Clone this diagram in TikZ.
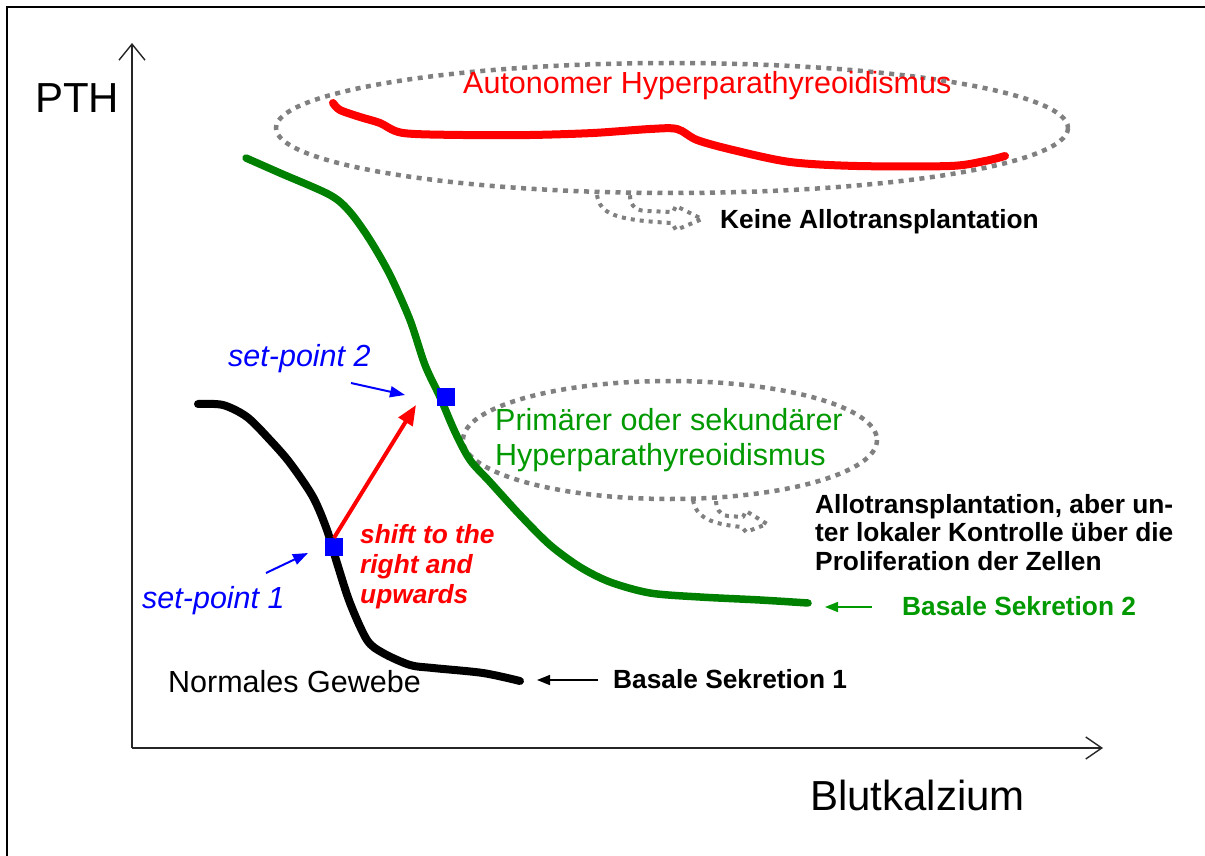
\documentclass[tikz,border=0pt]{standalone}
\usepackage{fontspec}
\setmainfont{Liberation Sans}
\usetikzlibrary{arrows.meta}
\definecolor{cred}{RGB}{255,0,0}
\definecolor{cgreen}{RGB}{0,128,0}
\definecolor{cgreentext}{RGB}{0,153,0}
\definecolor{cblue}{RGB}{0,0,255}
\definecolor{cgray}{RGB}{128,128,128}
\begin{document}
\begin{tikzpicture}[x=1pt,y=-1pt,
  lbl/.style={inner sep=0pt, anchor=base west},
  big/.style={font=\fontsize{42}{48}\selectfont},
  reg/.style={font=\fontsize{30.5}{35}\selectfont},
  ital/.style={font=\fontsize{30.5}{35}\selectfont\itshape},
  bld/.style={font=\fontsize{26.3}{28.5}\selectfont\bfseries},
  bldit/.style={font=\fontsize{26.3}{30}\selectfont\bfseries\itshape},
  curve/.style={line width=8pt, line cap=round, line join=round},
  dots/.style={draw=cgray, line width=4.5pt, dash pattern=on 5pt off 5.5pt},
  hookdots/.style={draw=cgray, line width=4pt, dash pattern=on 4pt off 5pt, line join=round},
  axis/.style={line width=1.6pt, draw=black!85},
  ptarrow/.style={draw=cblue, line width=2pt, -{Triangle[length=15pt,width=11pt]}},
  baarrow/.style={line width=1.6pt, -{Triangle[length=13pt,width=10pt]}},
  ptsq/.style={fill=cblue, minimum size=18pt, inner sep=0pt}
]
\fill[white] (0,0) rectangle (1205,856);
\useasboundingbox (0,0) rectangle (1205,856);
\coordinate (fbl) at (7,860);
\coordinate (ftl) at (7,7);
\coordinate (ftr) at (1210,7);
\draw[line width=1.6pt] (fbl) -- (ftl) -- (ftr);

% axes
\coordinate (O) at (132,748);
\coordinate (ytip) at (132,43);
\coordinate (xtip) at (1103,748);
\draw[axis, -{Straight Barb[length=16pt,width=26pt,line width=1.4pt]}] (O) -- (ytip);
\draw[axis, -{Straight Barb[length=16pt,width=22pt,line width=1.4pt]}] (O) -- (xtip);
\node[lbl,big] (pth) at (35,113) {PTH};
\node[lbl,big] (xlab) at (810,810) {Blutkalzium};

% ellipses
\draw[dots] (672,128) ellipse [x radius=396, y radius=65];
\draw[dots] (670,440) ellipse [x radius=207, y radius=59];

% hooks
\draw[hookdots] (597,195) .. controls (600,214) and (615,220) .. (672,223)
  -- (676,230) -- (702,219) -- (676,206) -- (673,212)
  -- (645,211) .. controls (633,210) and (630,203) .. (630,195);
\draw[hookdots] (693,500) .. controls (696,517) and (710,524) .. (742,527)
  -- (746,532) -- (767,524) -- (746,511) -- (743,517)
  -- (728,516) .. controls (719,515) and (716,508) .. (716,500);

% curves
\draw[curve, cred] plot[smooth, tension=0.5] coordinates {(333,103) (340,110) (360,117) (380,123) (403,133) (463,135) (530,135) (593,133) (650,129) (677,129) (697,140) (733,150) (790,162) (857,166) (950,166) (985,161) (1005,156)};
\draw[curve, cgreen, line width=7.5pt] plot[smooth, tension=0.5] coordinates {(246,158) (280,173) (330,195) (350,212) (370,240) (390,275) (410,320) (425,365) (440,397) (455,432) (470,460) (490,482) (520,515) (550,545) (580,567) (610,582) (650,593) (700,597) (760,600) (808,603)};
\draw[curve, black] plot[smooth, tension=0.5] coordinates {(198,404) (223,405) (247,417) (270,440) (290,463) (313,497) (327,530) (337,563) (350,603) (367,640) (383,653) (410,665) (433,668) (483,673) (520,681)};

% set points
\node[ptsq] (sp2) at (446,397) {};
\node[ptsq] (sp1) at (334,547) {};
\coordinate (shiftend) at (416,405);
\draw[cred, line width=4pt, -{Triangle[length=20pt,width=16pt]}] (sp1.north) -- (shiftend);

\node[lbl,ital,text=cblue] (lsp2) at (228,366) {set-point 2};
\node[lbl,ital,text=cblue] (lsp1) at (142,608) {set-point 1};
\coordinate (a2s) at (351,383);
\coordinate (a2e) at (405,395);
\coordinate (a1s) at (266,573);
\coordinate (a1e) at (308,553);
\draw[ptarrow] (a2s) -- (a2e);
\draw[ptarrow] (a1s) -- (a1e);

\node[lbl,bldit,text=cred,align=left] (shift) at (360,603) {shift to the\\right and\\upwards};

% labels
\node[lbl,reg,text=cred] (auto) at (463,94) {Autonomer Hyperparathyreoidismus};
\node[lbl,bld] (keine) at (720,228) {Keine Allotransplantation};
\node[lbl,reg,text=cgreentext,align=left] (prim) at (495,465) {Primärer oder sekundärer\\Hyperparathyreoidismus};
\node[lbl,bld,align=left] (allo) at (815,570) {Allotransplantation, aber un-\\ter lokaler Kontrolle über die\\Proliferation der Zellen};
\node[lbl,bld,text=cgreentext] (bs2) at (902,615) {Basale Sekretion 2};
\node[lbl,bld] (bs1) at (613,688) {Basale Sekretion 1};
\node[lbl,reg] (norm) at (168,692) {Normales Gewebe};

\coordinate (g2s) at (872,607);
\coordinate (g2e) at (825,607);
\draw[baarrow, cgreentext] (g2s) -- (g2e);
\coordinate (b1s) at (598,680);
\coordinate (b1e) at (537,680);
\draw[baarrow, black] (b1s) -- (b1e);
\end{tikzpicture}
\end{document}
